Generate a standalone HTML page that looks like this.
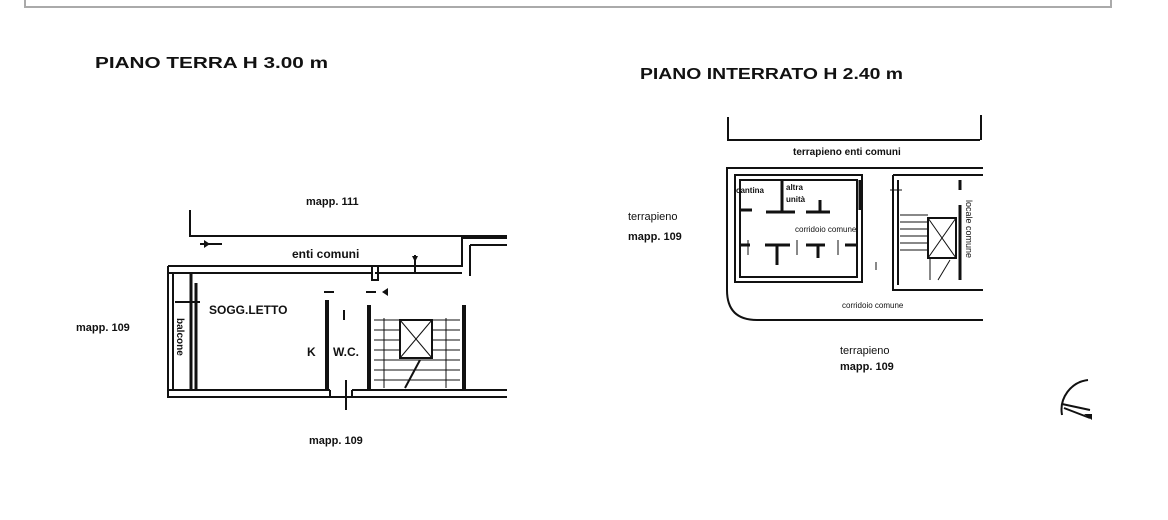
<!DOCTYPE html>
<html><head><meta charset="utf-8"><style>
html,body{margin:0;padding:0;background:#fff;}
svg{display:block;font-family:"Liberation Sans",Arial,sans-serif;}
</style></head><body>
<svg width="1168" height="520" viewBox="0 0 1168 520" xmlns="http://www.w3.org/2000/svg">
<rect x="0" y="0" width="1168" height="520" fill="#fff"/>
<path d="M25 0 V7 H1111 V0" fill="none" stroke="#aaa" stroke-width="2"/>
<g fill="#111">
<text x="95" y="68" font-size="16" font-weight="bold" textLength="233" lengthAdjust="spacingAndGlyphs">PIANO TERRA H 3.00 m</text>
<text x="640" y="79" font-size="16" font-weight="bold" textLength="263" lengthAdjust="spacingAndGlyphs">PIANO INTERRATO H 2.40 m</text>
<text x="306" y="205" font-size="11" font-weight="bold">mapp. 111</text>
<text x="292" y="258" font-size="12" font-weight="bold">enti comuni</text>
<text x="209" y="314" font-size="12" font-weight="bold">SOGG.LETTO</text>
<text x="307" y="356" font-size="12" font-weight="bold">K</text>
<text x="333" y="356" font-size="12" font-weight="bold">W.C.</text>
<text transform="translate(177,318) rotate(90)" font-size="10" font-weight="bold">balcone</text>
<text x="76" y="331" font-size="11" font-weight="bold">mapp. 109</text>
<text x="309" y="444" font-size="11" font-weight="bold">mapp. 109</text>
<text x="793" y="155" font-size="10" font-weight="bold">terrapieno enti comuni</text>
<text x="736" y="193" font-size="8" font-weight="bold">cantina</text>
<text x="786" y="190" font-size="8" font-weight="bold">altra</text>
<text x="786" y="202" font-size="8" font-weight="bold">unità</text>
<text x="795" y="232" font-size="8">corridoio comune</text>
<text transform="translate(966,200) rotate(90)" font-size="9">locale comune</text>
<text x="842" y="308" font-size="8">corridoio comune</text>
<text x="628" y="220" font-size="11">terrapieno</text>
<text x="628" y="240" font-size="11" font-weight="bold">mapp. 109</text>
<text x="840" y="354" font-size="11">terrapieno</text>
<text x="840" y="370" font-size="11" font-weight="bold">mapp. 109</text>
</g>
<g fill="none" stroke="#111" stroke-width="2">
<path d="M190 210 V236 H507"/>
<path d="M168 266 H462 V238 H507 M168 273 H372 M375 273 H462 M470 245 H507 M470 245 V276"/>
<path d="M168 266 V398 M173 273 V390"/>
<path d="M191 273 V390 M196 283 V390" stroke-width="3"/>
<path d="M168 390 H330 M168 397 H507 M352 390 H507 M330 390 V397 M352 390 V397"/>
<path d="M327 300 V390" stroke-width="4"/>
<path d="M369 305 V390 M464 305 V390" stroke-width="4"/>
<path d="M372 265 V280 H378 V265"/>
<path d="M346 380 V410 M344 310 V320 M415 255 V272"/>
<path d="M200 244 H222 M324 292 H334 M366 292 H376 M175 302 H200"/>
</g>
<g stroke="#111" stroke-width="1" fill="none">
<path d="M374 320 H460 M374 330 H460 M374 340 H460 M374 350 H460 M374 360 H460 M374 370 H460 M374 380 H460"/>
<path d="M384 318 V388 M446 318 V388"/>
<rect x="400" y="320" width="32" height="38" stroke-width="2" fill="#fff"/>
<path d="M400 320 L432 358 M432 320 L400 358"/>
<path d="M405 388 L420 360" stroke-width="2"/>
</g>
<path d="M204 240 L210 244 L204 248Z M412 256 L418 256 L415 262Z M388 288 L382 292 L388 296Z" fill="#111"/>
<g fill="none" stroke="#111" stroke-width="2">
<path d="M728 117 V140 H980 M981 115 V140"/>
<path d="M983 168 H727 V290 Q727 320 757 320 H983"/>
<path d="M735 175 H862 V282 H735 Z M740 180 H857 V277 H740 Z"/>
<path d="M893 175 H983 M893 175 V290 H983 M898 180 V285"/>
<path d="M740 210 H752 M766 212 H795 M806 212 H830 M782 180 V212 M820 200 V212 M860 180 V210" stroke-width="3"/>
<path d="M740 245 H750 M765 245 H790 M777 245 V265 M806 245 H825 M818 245 V258 M845 245 H857" stroke-width="3"/>
<path d="M960 180 V190 M960 205 V280" stroke-width="3"/>
</g>
<g stroke="#111" stroke-width="1" fill="none">
<path d="M900 215 H928 M900 222 H928 M900 229 H928 M900 236 H928 M900 243 H928 M900 250 H928"/>
<rect x="928" y="218" width="28" height="40" stroke-width="2"/>
<path d="M928 218 L956 258 M956 218 L928 258"/>
<path d="M930 258 V280 M938 280 L950 260"/>
<path d="M890 190 H902 M876 262 V270 M748 240 V255 M797 240 V255 M838 240 V255"/>
</g>
<path d="M1088 380 A30 30 0 0 0 1062 415" fill="none" stroke="#111" stroke-width="2"/>
<path d="M1062 404 L1090 410 M1064 408 L1090 418" stroke="#111" stroke-width="2"/>
<path d="M1084 414 L1092 414 L1092 420Z" fill="#111"/>
</svg>
</body></html>
